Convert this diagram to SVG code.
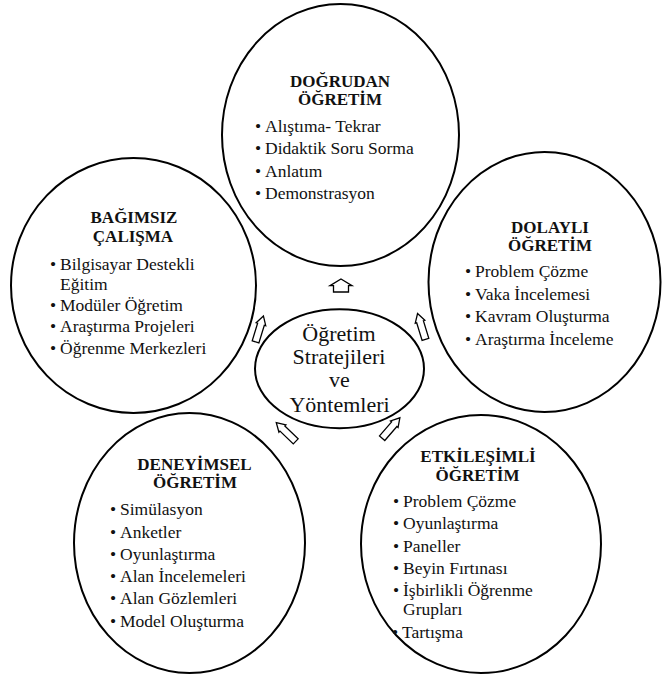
<svg xmlns="http://www.w3.org/2000/svg" width="662" height="675" viewBox="0 0 662 675">
<style>
.c{fill:none;stroke:#000;stroke-width:2}
.h{font-family:"Liberation Serif","Times New Roman",serif;font-weight:bold;font-size:17px;fill:#111;text-anchor:middle}
.t{font-family:"Liberation Serif","Times New Roman",serif;font-size:17.5px;fill:#111}
.m{font-family:"Liberation Serif","Times New Roman",serif;font-size:22px;fill:#111;text-anchor:middle}
.a{fill:#fff;stroke:#000;stroke-width:1.3;stroke-linejoin:miter}
</style>
<defs>
<path id="arS" d="M0,-13.5 L5,-5 L3.5,-5 L3.5,13.5 L-3.5,13.5 L-3.5,-5 L-5,-5 Z"/>
</defs>
<rect width="662" height="675" fill="#fff"/>
<g id="node-dogrudan">
<ellipse class="c" cx="340.5" cy="135" rx="118.5" ry="131"/>
<text class="h" x="340" y="87">DOĞRUDAN</text>
<text class="h" x="340" y="105">ÖĞRETİM</text>
<text class="t"><tspan x="255" y="131.7">•</tspan><tspan x="265">Alıştıma- Tekrar</tspan></text>
<text class="t"><tspan x="255" y="154">•</tspan><tspan x="265">Didaktik Soru Sorma</tspan></text>
<text class="t"><tspan x="255" y="176.7">•</tspan><tspan x="265">Anlatım</tspan></text>
<text class="t"><tspan x="255" y="199">•</tspan><tspan x="265">Demonstrasyon</tspan></text>
</g>
<g id="node-bagimsiz">
<ellipse class="c" cx="133.5" cy="285.5" rx="122.5" ry="127.5"/>
<text class="h" x="134" y="223.3">BAĞIMSIZ</text>
<text class="h" x="133" y="242">ÇALIŞMA</text>
<text class="t"><tspan x="50" y="269.5">•</tspan><tspan x="60">Bilgisayar Destekli</tspan></text>
<text class="t" x="60" y="289.5">Eğitim</text>
<text class="t"><tspan x="50" y="310.5">•</tspan><tspan x="60">Modüler Öğretim</tspan></text>
<text class="t"><tspan x="50" y="331.7">•</tspan><tspan x="60">Araştırma Projeleri</tspan></text>
<text class="t"><tspan x="50" y="354">•</tspan><tspan x="60">Öğrenme Merkezleri</tspan></text>
</g>
<g id="node-dolayli">
<ellipse class="c" cx="544.5" cy="282" rx="116" ry="130"/>
<text class="h" x="550" y="232.7">DOLAYLI</text>
<text class="h" x="550" y="250.7">ÖĞRETİM</text>
<text class="t"><tspan x="465" y="277.3">•</tspan><tspan x="475">Problem Çözme</tspan></text>
<text class="t"><tspan x="465" y="300">•</tspan><tspan x="475">Vaka İncelemesi</tspan></text>
<text class="t"><tspan x="465" y="322.3">•</tspan><tspan x="475">Kavram Oluşturma</tspan></text>
<text class="t"><tspan x="465" y="344.7">•</tspan><tspan x="475">Araştırma İnceleme</tspan></text>
</g>
<g id="node-deneyimsel">
<ellipse class="c" cx="189.5" cy="543" rx="115.5" ry="130"/>
<text class="h" x="194.5" y="470">DENEYİMSEL</text>
<text class="h" x="195" y="488.3">ÖĞRETİM</text>
<text class="t"><tspan x="110" y="515">•</tspan><tspan x="120">Simülasyon</tspan></text>
<text class="t"><tspan x="110" y="537.7">•</tspan><tspan x="120">Anketler</tspan></text>
<text class="t"><tspan x="110" y="559.5">•</tspan><tspan x="120">Oyunlaştırma</tspan></text>
<text class="t"><tspan x="110" y="582.3">•</tspan><tspan x="120">Alan İncelemeleri</tspan></text>
<text class="t"><tspan x="110" y="604.3">•</tspan><tspan x="120">Alan Gözlemleri</tspan></text>
<text class="t"><tspan x="110" y="626.7">•</tspan><tspan x="120">Model Oluşturma</tspan></text>
</g>
<g id="node-etkilesimli">
<ellipse class="c" cx="481" cy="544" rx="120" ry="129"/>
<text class="h" x="478" y="462.3">ETKİLEŞİMLİ</text>
<text class="h" x="477.5" y="480.7">ÖĞRETİM</text>
<text class="t"><tspan x="393" y="507.3">•</tspan><tspan x="403">Problem Çözme</tspan></text>
<text class="t"><tspan x="393" y="529.3">•</tspan><tspan x="403">Oyunlaştırma</tspan></text>
<text class="t"><tspan x="393" y="551.7">•</tspan><tspan x="403">Paneller</tspan></text>
<text class="t"><tspan x="393" y="574">•</tspan><tspan x="403">Beyin Fırtınası</tspan></text>
<text class="t"><tspan x="393" y="595.5">•</tspan><tspan x="403">İşbirlikli Öğrenme</tspan></text>
<text class="t" x="403" y="615">Grupları</text>
<text class="t"><tspan x="392" y="638.3">•</tspan><tspan x="402">Tartışma</tspan></text>
</g>
<g id="node-center">
<ellipse class="c" cx="339.5" cy="368.7" rx="84.5" ry="59.5"/>
<text class="m" x="339" y="341">Öğretim</text>
<text class="m" x="339" y="364">Stratejileri</text>
<text class="m" x="339.5" y="387.3">ve</text>
<text class="m" x="339.5" y="411.7">Yöntemleri</text>
</g>
<g id="connectors">
<path class="a" d="M341,279 L352,285.7 L348.5,285.7 L348.5,292 L333.5,292 L333.5,285.7 L330,285.7 Z"/>
<use class="a" href="#arS" transform="translate(259.5,329) rotate(17)"/>
<use class="a" href="#arS" transform="translate(421.5,326.5) rotate(-17)"/>
<use class="a" href="#arS" transform="translate(286,432) rotate(-46)"/>
<use class="a" href="#arS" transform="translate(391,428) rotate(41)"/>
</g>
</svg>
